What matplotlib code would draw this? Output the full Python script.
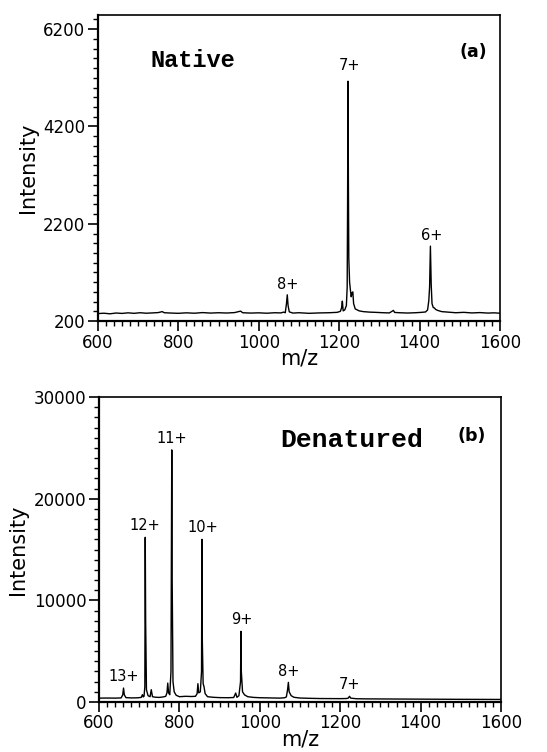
import matplotlib
matplotlib.use("Agg")
import matplotlib.pyplot as plt
from matplotlib.ticker import MultipleLocator

# ---------------- data ----------------
# Panel (a): native spectrum trace, m/z and intensity
native_mz = [600, 615, 630, 645, 660, 675, 690, 705, 720, 735, 750, 760, 765, 780,
             800, 820, 840, 860, 880, 900, 920, 940, 955, 960, 980, 1000, 1020,
             1040, 1055, 1062, 1066, 1069, 1071, 1073, 1076, 1085, 1100, 1125,
             1150, 1175, 1195, 1203, 1206, 1208, 1210, 1214, 1218, 1220, 1221,
             1222, 1223, 1224, 1226, 1228, 1230, 1232, 1234, 1236, 1240, 1250,
             1260, 1275, 1290, 1310, 1325, 1335, 1338, 1350, 1370, 1390, 1405,
             1415, 1420, 1423, 1425, 1427, 1429, 1431, 1434, 1437, 1440, 1445,
             1455, 1470, 1490, 1510, 1530, 1550, 1570, 1585, 1600]
native_int = [355, 362, 350, 366, 358, 370, 360, 372, 362, 368, 375, 395, 372, 366,
              360, 370, 362, 375, 365, 372, 366, 375, 405, 372, 365, 370, 362,
              372, 368, 385, 372, 560, 740, 520, 390, 365, 372, 360,
              368, 372, 380, 400, 470, 610, 410, 430, 520, 900, 2600,
              5130, 3100, 1500, 1000, 840, 700, 780, 800, 560, 450, 410,
              395, 385, 380, 372, 368, 420, 378, 372, 366, 372, 380,
              388, 430, 620, 900, 1740, 950, 560, 480, 470, 440, 420,
              395, 385, 372, 380, 368, 375, 365, 370, 362]

# Panel (b): denatured spectrum trace
denat_mz = [600, 620, 640, 655, 659, 661, 663, 667, 680, 695, 705, 708, 710, 712,
            714, 715, 716, 718, 722, 727, 730, 733, 740, 750, 760, 766, 769,
            771, 773, 776, 779, 781, 782, 784, 787, 792, 800, 815, 830, 840,
            844, 846, 848, 852, 855, 856, 857, 859, 861, 864, 870, 885, 900,
            920, 935, 940, 943, 948, 952, 953, 954, 957, 962, 970, 985, 1000,
            1025, 1050, 1062, 1066, 1069, 1071, 1073, 1078, 1085, 1100, 1125,
            1150, 1175, 1200, 1215, 1220, 1223, 1226, 1240, 1270, 1300, 1350,
            1400, 1450, 1500, 1550, 1600]
denat_int = [380, 390, 380, 400, 700, 1370, 700, 430, 400, 410, 450, 720, 500, 560,
             1500, 16200, 8000, 1200, 620, 520, 1210, 520, 470, 450, 500, 560, 900,
             1860, 900, 720, 3000, 24800, 12000, 2000, 1000, 660, 520, 560, 540, 560,
             820, 1800, 900, 1000, 3000, 16000, 6000, 1800, 1540, 820, 520, 460, 430,
             420, 440, 880, 460, 620, 2000, 6950, 3000, 1000, 700, 520, 450, 420,
             400, 380, 420, 500, 1200, 1930, 1000, 620, 460, 390, 360,
             340, 335, 330, 340, 380, 560, 380, 320, 305, 300, 290,
             280, 270, 262, 255, 250]

native_labels = ["8+", "7+", "6+"]
native_label_mz = [1071, 1225, 1430]
native_label_y = [960, 5450, 1960]

denat_labels = ["13+", "12+", "11+", "10+", "9+", "8+", "7+"]
denat_label_mz = [661, 715, 782, 859, 954, 1072, 1224]
denat_label_y = [2500, 17400, 25900, 17200, 8100, 3000, 1700]

native_yticks = [200, 2200, 4200, 6200]
denat_yticks = [0, 10000, 20000, 30000]
xticks = [600, 800, 1000, 1200, 1400, 1600]

# ---------------- figure ----------------
fig = plt.figure(figsize=(5.47, 7.52), dpi=100)
ax1 = fig.add_axes([0.179, 0.573, 0.735, 0.407])
ax2 = fig.add_axes([0.181, 0.0665, 0.735, 0.4055])


def style(ax):
    ax.set_xlim(600, 1600)
    ax.set_xticks(xticks)
    ax.xaxis.set_minor_locator(MultipleLocator(20))
    ax.tick_params(axis="both", which="major", direction="out", length=7,
                   width=1.2, labelsize=12, top=False, right=False, pad=2)
    ax.tick_params(axis="both", which="minor", direction="out", length=3.5,
                   width=1.0, top=False, right=False)
    for s in ["left", "bottom"]:
        ax.spines[s].set_linewidth(1.6)
    for s in ["top", "right"]:
        ax.spines[s].set_linewidth(1.2)
    ax.set_xlabel("m/z", fontsize=15, labelpad=-2)
    ax.set_ylabel("Intensity", fontsize=15, labelpad=4)


# Panel a
ax1.plot(native_mz, native_int, color="black", lw=1.0)
ax1.set_ylim(200, 6490)
ax1.set_yticks(native_yticks)
ax1.yaxis.set_minor_locator(MultipleLocator(200))
style(ax1)
for t, x, y in zip(native_labels, native_label_mz, native_label_y):
    ax1.text(x, y, t, ha="center", va="center", fontsize=10.5)
ax1.text(835, 5560, "Native", ha="center", va="center",
         family="Liberation Mono", fontweight="bold", fontsize=17)
ax1.text(1533, 5730, "(a)", ha="center", va="center",
         fontweight="bold", fontsize=12.5)

# Panel b
ax2.plot(denat_mz, denat_int, color="black", lw=1.0)
ax2.set_ylim(0, 30000)
ax2.set_yticks(denat_yticks)
ax2.yaxis.set_minor_locator(MultipleLocator(1000))
style(ax2)
for t, x, y in zip(denat_labels, denat_label_mz, denat_label_y):
    ax2.text(x, y, t, ha="center", va="center", fontsize=10.5)
ax2.text(1228, 25730, "Denatured", ha="center", va="center",
         family="Liberation Mono", fontweight="bold", fontsize=19)
ax2.text(1527, 26200, "(b)", ha="center", va="center",
         fontweight="bold", fontsize=12.5)

fig.savefig("out.png", dpi=100)
